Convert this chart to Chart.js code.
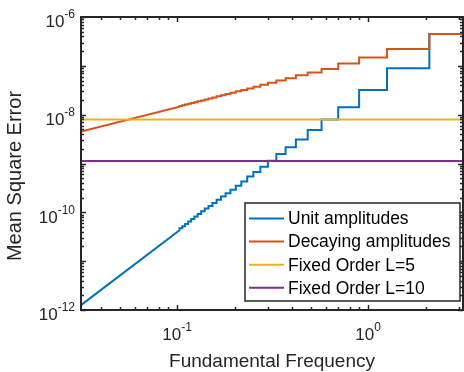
<!DOCTYPE html>
<html>
<head>
<meta charset="utf-8">
<script src="https://cdn.jsdelivr.net/npm/chart.js@4"></script>
<style>
  html, body { margin: 0; padding: 0; background: #fff; }
  canvas { display: block; }
</style>
</head>
<body>
<canvas id="myChart" width="464" height="372"></canvas>
<script>
// axis limits
const xMin = 0.0314159;
const xMax = 3.14159;
const yMin = 1e-12;
const yMax = 1e-6;

// step edges (fundamental frequency), right to left, one step per harmonic count
const stepEdges = [3.14159, 2.094, 1.257, 0.898, 0.698, 0.571, 0.483, 0.419, 0.370, 0.331,
                   0.299, 0.273, 0.251, 0.233, 0.217, 0.203, 0.1904, 0.1795, 0.1699, 0.1611,
                   0.1532, 0.1461, 0.1396, 0.1337, 0.1282, 0.1232, 0.1186, 0.1143, 0.1102,
                   0.1065, 0.1030];

// unit amplitudes: level of each step, then the fine part (steps too small to see)
const unitLevels = [4.5e-7, 8.9e-8, 3.2e-8, 1.42e-8, 8.0e-9, 4.85e-9, 3.1e-9, 2.15e-9,
                    1.56e-9, 1.14e-9, 8.6e-10, 6.7e-10, 5.4e-10, 4.3e-10, 3.5e-10, 2.9e-10,
                    2.45e-10, 2.1e-10, 1.8e-10, 1.55e-10, 1.35e-10, 1.2e-10, 1.05e-10, 9.2e-11,
                    8.2e-11, 7.3e-11, 6.5e-11, 5.8e-11, 5.2e-11, 4.7e-11];
const unitTailX = [0.1030, 0.0314159];
const unitTailY = [4.3e-11, 1.26e-12];

// decaying amplitudes
const decayLevels = [4.5e-7, 2.2e-7, 1.48e-7, 1.12e-7, 8.6e-8, 7.3e-8, 6.4e-8, 5.6e-8,
                     5.0e-8, 4.5e-8, 4.1e-8, 3.75e-8, 3.45e-8, 3.2e-8, 3.0e-8, 2.8e-8,
                     2.65e-8, 2.5e-8, 2.37e-8, 2.25e-8, 2.14e-8, 2.05e-8, 1.96e-8, 1.88e-8,
                     1.8e-8, 1.73e-8, 1.67e-8, 1.61e-8, 1.55e-8, 1.5e-8];
const decayTailX = [0.1030, 0.0314159];
const decayTailY = [1.46e-8, 4.5e-9];

// fixed order lines
const fixedL5 = 8.0e-9;
const fixedL10 = 1.12e-9;

// tick labels
const xTickVals = [0.1, 1];
const xTickExp = ['-1', '0'];
const yTickVals = [1e-12, 1e-10, 1e-8, 1e-6];
const yTickExp = ['-12', '-10', '-8', '-6'];

const labels = ['Unit amplitudes', 'Decaying amplitudes', 'Fixed Order L=5', 'Fixed Order L=10'];
const colors = ['#0072BD', '#D95319', '#EDB120', '#7E2F8E'];

function stairs(levels, tailX, tailY) {
    const pts = [];
    for (let i = 0; i < levels.length; i++) {
        pts.push({ x: stepEdges[i], y: levels[i] });
        pts.push({ x: stepEdges[i + 1], y: levels[i] });
    }
    for (let i = 0; i < tailX.length; i++) {
        pts.push({ x: tailX[i], y: tailY[i] });
    }
    return pts;
}

const axisColor = '#262626';
const fontFam = '"Liberation Sans", Arial, sans-serif';

function drawPow(ctx, exp, x, y, align) {
    ctx.font = '17px ' + fontFam;
    const wb = ctx.measureText('10').width;
    ctx.font = '12px ' + fontFam;
    const we = ctx.measureText(exp).width;
    const total = wb + we;
    let x0 = align === 'right' ? x - total : x - total / 2;
    ctx.textAlign = 'left';
    ctx.textBaseline = 'middle';
    ctx.font = '17px ' + fontFam;
    ctx.fillText('10', x0, y + 5.5);
    ctx.font = '12px ' + fontFam;
    ctx.fillText(exp, x0 + wb, y - 2);
}

// MATLAB style box, ticks, labels and legend
const matlabAxes = {
    id: 'matlabAxes',
    afterDatasetsDraw(chart) {
        const ctx = chart.ctx;
        const a = chart.chartArea;
        const xs = chart.scales.x;
        const ys = chart.scales.y;
        ctx.save();
        ctx.strokeStyle = axisColor;
        ctx.fillStyle = axisColor;
        ctx.lineWidth = 1.5;

        // minor / major ticks
        ctx.beginPath();
        for (let e = -2; e <= 0; e++) {
            for (let m = 1; m <= 9; m++) {
                const v = m * Math.pow(10, e);
                if (v < xMin || v > xMax) continue;
                const px = Math.round(xs.getPixelForValue(v)) + 0.5;
                const len = m === 1 ? 5 : 3;
                ctx.moveTo(px, a.bottom); ctx.lineTo(px, a.bottom - len);
                ctx.moveTo(px, a.top); ctx.lineTo(px, a.top + len);
            }
        }
        for (let e = -12; e <= -6; e++) {
            for (let m = 1; m <= 9; m++) {
                const v = m * Math.pow(10, e);
                if (v < yMin * 0.999 || v > yMax * 1.001) continue;
                const py = Math.round(ys.getPixelForValue(v)) + 0.5;
                const len = m === 1 ? 5 : 3;
                ctx.moveTo(a.left, py); ctx.lineTo(a.left + len, py);
                ctx.moveTo(a.right, py); ctx.lineTo(a.right - len, py);
            }
        }
        ctx.stroke();

        // box
        ctx.lineWidth = 2;
        ctx.strokeRect(a.left, a.top, a.right - a.left, a.bottom - a.top);

        // tick labels
        xTickVals.forEach((v, i) => {
            drawPow(ctx, xTickExp[i], xs.getPixelForValue(v), 330, 'center');
        });
        yTickVals.forEach((v, i) => {
            drawPow(ctx, yTickExp[i], 75, ys.getPixelForValue(v), 'right');
        });

        // axis titles
        ctx.font = '19px ' + fontFam;
        ctx.textAlign = 'center';
        ctx.textBaseline = 'alphabetic';
        ctx.fillText('Fundamental Frequency', (a.left + a.right) / 2, 367);
        ctx.save();
        ctx.font = '20px ' + fontFam;
        ctx.translate(21, 176);
        ctx.rotate(-Math.PI / 2);
        ctx.fillText('Mean Square Error', 0, 0);
        ctx.restore();

        // legend
        const lx = 245, ly = 203, lw = 215, lh = 98;
        ctx.fillStyle = '#fff';
        ctx.fillRect(lx, ly, lw, lh);
        ctx.lineWidth = 1.5;
        ctx.strokeStyle = axisColor;
        ctx.strokeRect(lx, ly, lw, lh);
        ctx.font = '17.5px ' + fontFam;
        ctx.textAlign = 'left';
        ctx.textBaseline = 'middle';
        labels.forEach((lab, i) => {
            const ry = 218.5 + i * 23.1;
            ctx.strokeStyle = colors[i];
            ctx.lineWidth = 2;
            ctx.beginPath();
            ctx.moveTo(249, ry); ctx.lineTo(284, ry);
            ctx.stroke();
            ctx.fillStyle = '#000';
            ctx.fillText(lab, 288, ry + 1);
        });
        ctx.restore();
    }
};

const ctx = document.getElementById('myChart').getContext('2d');
const myChart = new Chart(ctx, {
    type: 'scatter',
    data: {
        datasets: [
            { label: labels[0], data: stairs(unitLevels, unitTailX, unitTailY), order: 4 },
            { label: labels[1], data: stairs(decayLevels, decayTailX, decayTailY), order: 3 },
            { label: labels[2], data: [{ x: xMin, y: fixedL5 }, { x: xMax, y: fixedL5 }], order: 2 },
            { label: labels[3], data: [{ x: xMin, y: fixedL10 }, { x: xMax, y: fixedL10 }], order: 1 }
        ].map((d, i) => Object.assign(d, {
            showLine: true,
            borderColor: colors[i],
            backgroundColor: colors[i],
            borderWidth: 2,
            pointRadius: 0,
            fill: false,
            tension: 0
        }))
    },
    options: {
        responsive: false,
        animation: false,
        layout: { padding: { left: 0, top: 17, right: 1, bottom: 0 } },
        plugins: { legend: { display: false }, tooltip: { enabled: false } },
        scales: {
            x: {
                type: 'logarithmic',
                min: xMin,
                max: xMax,
                grid: { display: false },
                border: { display: false },
                ticks: { display: false },
                afterFit(scale) { scale.height = 62; }
            },
            y: {
                type: 'logarithmic',
                min: yMin,
                max: yMax,
                grid: { display: false },
                border: { display: false },
                ticks: { display: false },
                afterFit(scale) { scale.width = 81; }
            }
        }
    },
    plugins: [matlabAxes]
});
</script>
</body>
</html>
